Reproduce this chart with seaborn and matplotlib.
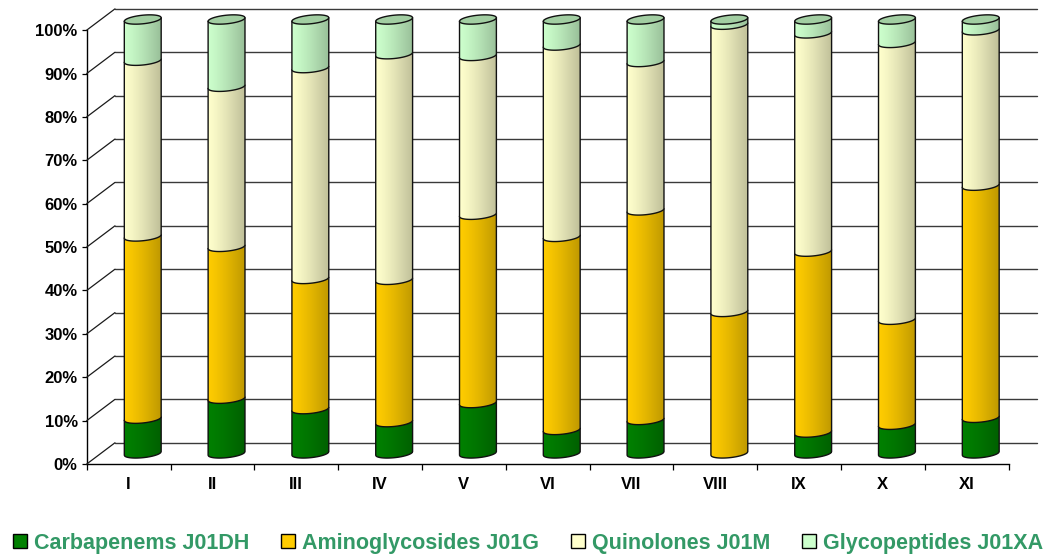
import numpy as np
import pandas as pd
import matplotlib
matplotlib.use("Agg")
import matplotlib.pyplot as plt
import seaborn as sns
from matplotlib.patches import PathPatch, Polygon, Patch
from matplotlib.path import Path
from matplotlib.colors import to_rgb

# ---- data: share of each antibiotic group per region (%) ----
regions = ["I", "II", "III", "IV", "V", "VI", "VII", "VIII", "IX", "X", "XI"]
carbapenems = [8.0, 12.6, 10.2, 7.2, 11.6, 5.4, 7.7, 0.0, 4.8, 6.6, 8.2]
aminoglycosides = [42.0, 35.0, 30.0, 32.8, 43.4, 44.5, 48.3, 32.6, 41.7, 24.2, 53.5]
quinolones = [40.5, 36.9, 48.6, 52.0, 36.6, 44.1, 34.2, 66.2, 50.3, 63.8, 35.8]
glycopeptides = [9.5, 15.5, 11.2, 8.0, 8.4, 6.0, 9.8, 1.2, 3.2, 5.4, 2.5]

series_names = ["Carbapenems J01DH", "Aminoglycosides J01G",
                "Quinolones J01M", "Glycopeptides J01XA"]
series_values = [carbapenems, aminoglycosides, quinolones, glycopeptides]
series_colors = ["#008000", "#FFCC00", "#FFFFCC", "#CCFFCC"]
top_face_color = "#A2CEA2"
y_ticks = list(range(0, 101, 10))

sns.set_theme(style="ticks")
plt.rcParams["font.family"] = ["Liberation Sans", "DejaVu Sans"]
plt.rcParams["font.weight"] = "bold"

W, H, DPI = 1050, 558, 100
fig = plt.figure(figsize=(W / DPI, H / DPI), dpi=DPI)
fig.patch.set_facecolor("white")

# 3-D layout: cylinders stand in a middle plane, the axes lines lie in the
# front plane, the grid lies on the back wall (offsets in pixels)
DX, DY = 14.15, 10.65
mid_left, mid_right = 100.85, 1022.65
mid_base, mid_top = 453.4, 19.5
px_per_y = (mid_base - mid_top) / 100.0
px_per_x = (mid_right - mid_left) / len(regions)
Y_LO, Y_HI = -5, 105


def box(left_px, right_px, base_px, top_px):
    return [left_px / W, 1 - base_px / H, (right_px - left_px) / W,
            (base_px - top_px) / H]


# front plane: value axis and category axis
ax_front = fig.add_axes(box(mid_left - DX, mid_right - DX, mid_base + DY, mid_top + DY))
ax_front.set_xlim(-0.5, len(regions) - 0.5)
ax_front.set_ylim(0, 100)
ax_front.patch.set_alpha(0)
for side in ["top", "right"]:
    ax_front.spines[side].set_visible(False)
for side in ["left", "bottom"]:
    ax_front.spines[side].set_color("black")
    ax_front.spines[side].set_linewidth(1.0)
ax_front.set_yticks(y_ticks)
ax_front.set_yticklabels([f"{t}%" for t in y_ticks])
ax_front.set_xticks(range(len(regions)))
ax_front.set_xticklabels(regions)
ax_front.set_xticks(np.arange(-0.5, len(regions), 1.0), minor=True)
ax_front.tick_params(axis="y", left=True, length=3.6, width=0.9, pad=2.9,
                     labelsize=12, colors="black")
ax_front.tick_params(axis="x", which="major", bottom=True, length=0, pad=9.5,
                     labelsize=12, colors="black")
ax_front.tick_params(axis="x", which="minor", bottom=True, length=4.3,
                     width=0.9, color="black", direction="out")
for lab in ax_front.get_xticklabels() + ax_front.get_yticklabels():
    lab.set_fontweight("bold")

# middle plane: the cylinders
ax = fig.add_axes(box(mid_left, mid_right, mid_base + (-Y_LO) * px_per_y,
                      mid_top - (Y_HI - 100) * px_per_y))
ax.patch.set_alpha(0)
ax.set_axis_off()

ddx = DX / px_per_x
ddy = DY / px_per_y
x0_wall, x1_wall = -0.5, len(regions) - 0.5

# back wall grid and side wall diagonals
for t in y_ticks:
    ax.plot([x0_wall + ddx, x1_wall + ddx], [t + ddy, t + ddy], color="#3a3a3a",
            lw=1.0, zorder=0.5, clip_on=False)
    ax.plot([x0_wall - ddx, x0_wall + ddx], [t - ddy, t + ddy], color="#1a1a1a",
            lw=0.9, zorder=0.5, clip_on=False)

# stacked bars
bottoms = np.zeros(len(regions))
segments = []
for name, vals, color in zip(series_names, series_values, series_colors):
    n_before = len(ax.patches)
    sns.barplot(x=regions, y=vals, bottom=bottoms.copy(), color=color,
                width=0.44, saturation=1, errorbar=None, edgecolor="none",
                linewidth=0, zorder=2, ax=ax)
    segments.append((color, list(ax.patches[n_before:])))
    bottoms += np.asarray(vals, dtype=float)

# cylinder rendering: shaded body with a curved lower rim for each segment,
# rims slightly tilted for the perspective view (right side higher)
ell = 4.3 / px_per_y
tilt = 1.8 / px_per_y
u = np.linspace(-1, 1, 80)
half = np.sqrt(np.clip(1 - u ** 2, 0, 1))
shade_u = np.linspace(0, 1, 96)
shade = 1.0 - 0.25 * shade_u ** 1.25

for k, (color, patches) in enumerate(segments):
    base = np.array(to_rgb(color))
    img = np.clip(base[None, None, :] * shade[None, :, None], 0, 1)
    for p in patches:
        x0, w, y0, h = p.get_x(), p.get_width(), p.get_y(), p.get_height()
        if h <= 0.05:
            continue
        xs = x0 + w / 2 * (1 + u)
        lower = y0 + tilt * u - ell * half
        upper = y0 + h + tilt * u
        verts = np.column_stack([xs, lower]).tolist()
        verts += np.column_stack([xs[::-1], upper[::-1]]).tolist()
        verts.append(verts[0])
        codes = [Path.MOVETO] + [Path.LINETO] * (len(verts) - 2) + [Path.CLOSEPOLY]
        z = 3 + k * 0.1
        body = PathPatch(Path(verts, codes), facecolor="none",
                         edgecolor="#111111", lw=1.0, zorder=z + 0.01)
        ax.add_patch(body)
        im = ax.imshow(img, extent=(x0, x0 + w, y0 - ell - tilt, y0 + h + tilt),
                       aspect="auto", origin="lower", interpolation="bilinear",
                       zorder=z)
        im.set_clip_path(body)

# top faces of the cylinders
for p in segments[-1][1]:
    x0, w, y0, h = p.get_x(), p.get_width(), p.get_y(), p.get_height()
    xs = x0 + w / 2 * (1 + u)
    yc = y0 + h + tilt * u
    face = np.column_stack([np.concatenate([xs, xs[::-1]]),
                            np.concatenate([yc - ell * half, (yc + ell * half)[::-1]])])
    ax.add_patch(Polygon(face, closed=True, facecolor=top_face_color,
                         edgecolor="#111111", lw=1.0, zorder=10))

ax.set_xlim(-0.5, len(regions) - 0.5)
ax.set_ylim(Y_LO, Y_HI)

handles = [Patch(facecolor=c, edgecolor="black", lw=1.0) for c in series_colors]
fig.legend(handles, series_names, loc="center", bbox_to_anchor=(0.503, 1 - 543 / H),
           ncol=4, frameon=False, prop={"weight": "bold", "size": 15.5},
           labelcolor="#339966", handlelength=0.65, handleheight=0.65,
           handletextpad=0.35, columnspacing=1.45, borderaxespad=0)

fig.savefig("out.png", dpi=DPI, facecolor="white")
